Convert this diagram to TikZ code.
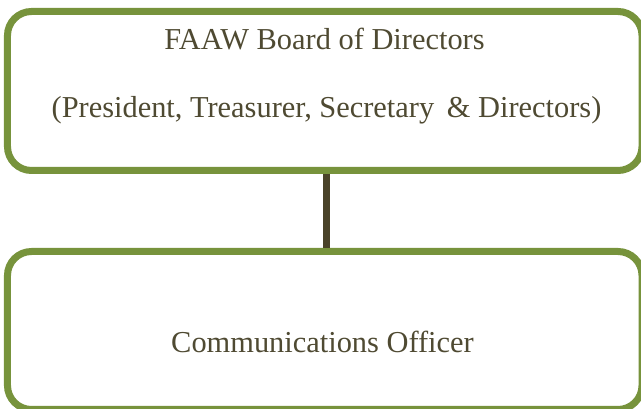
\documentclass[tikz,border=0pt]{standalone}
\usepackage{fontspec}
\setmainfont{Liberation Serif}
\usepackage{tikz}
\usetikzlibrary{positioning}

\definecolor{boxgreen}{HTML}{77933C}
\definecolor{linkbrown}{HTML}{4A4329}
\definecolor{textolive}{HTML}{4F4A32}

\tikzset{
  orgbox/.style={draw=boxgreen, line width=5.25pt, rounded corners=18pt,
    fill=white, inner sep=0pt, minimum width=475.9pt},
  orgtext/.style={anchor=base, text=textolive, inner sep=0pt,
    font=\fontsize{22.8}{28}\selectfont},
  link/.style={draw=linkbrown, line width=4.9pt}
}

\begin{document}
\begin{tikzpicture}[x=0.75pt,y=0.75pt]
        \useasboundingbox (0,0) rectangle (641,409);
        \node[orgbox, minimum height=119.25pt](board) at (324.75, 318) {};
        \node[orgbox, minimum height=118.5pt](officer) at (324.75, 78.5) {};
        \draw[link] ([xshift=1.3pt]board.south) -- ([xshift=1.3pt]officer.north);
        \node[orgtext](boardname) at (324.5, 359) {FAAW Board of Directors};
        \node[orgtext](boardroles) at (326.5, 291) {(President, Treasurer, Secretary\ \,\& Directors)};
        \node[orgtext](officername) at (322.5, 56) {Communications Officer};
      \end{tikzpicture}
\end{document}
